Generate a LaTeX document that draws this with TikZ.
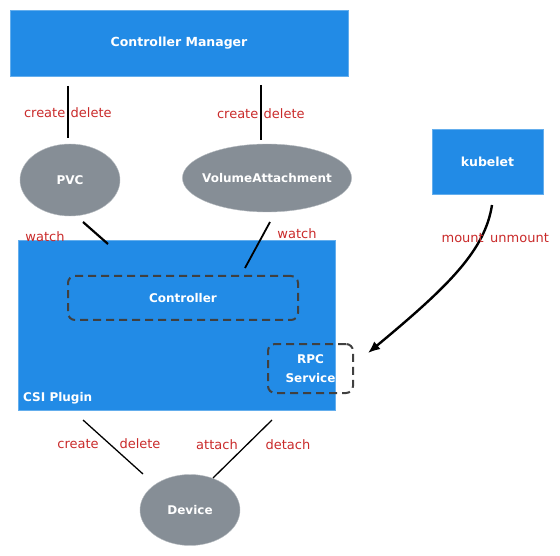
\documentclass[tikz,border=0pt]{standalone}
\usepackage{fontspec}
\setmainfont{DejaVu Sans}
\definecolor{boxblue}{HTML}{228BE6}
\definecolor{objgray}{HTML}{868E96}
\definecolor{opred}{HTML}{C92A2A}
\definecolor{dashgray}{HTML}{404040}
\usetikzlibrary{shapes.geometric, arrows.meta}
\tikzset{
  bluebox/.style={draw=boxblue!70!white, fill=boxblue, text=white, inner sep=0pt},
  objnode/.style={ellipse, draw=objgray!60!white, fill=objgray, text=white, font=\bfseries\fontsize{12}{14}\selectfont, inner sep=0pt},
  part/.style={draw=dashgray, dash pattern=on 8pt off 5pt, line width=2pt, rounded corners=7pt, text=white, inner sep=0pt},
  op/.style={text=opred, font=\fontsize{13}{15}\selectfont},
}
\begin{document}
\begin{tikzpicture}[x=1pt, y=-1pt]
  \useasboundingbox (0,0) rectangle (560,556);

  \node[bluebox, minimum width=338pt, minimum height=66pt, font=\bfseries\fontsize{12.5}{15}\selectfont] (cm) at (179,43) {Controller Manager};
  \node[bluebox, minimum width=111pt, minimum height=65pt, font=\bfseries\fontsize{12.5}{15}\selectfont] (kubelet) at (487.5,161.5) {kubelet};

  \node[objnode, minimum width=100pt, minimum height=72pt] (pvc) at (70,180) {PVC};
  \node[objnode, minimum width=166pt, minimum height=68pt, inner sep=-5pt] (va) at (267,178) {VolumeAttachment};

  \node[bluebox, minimum width=317pt, minimum height=170pt] (csi) at (176.5,325) {};
  \node[text=white, font=\bfseries\fontsize{12}{14}\selectfont, anchor=south west, inner sep=0pt] (csilabel) at (23,404) {CSI Plugin};
  \node[part, minimum width=230pt, minimum height=44pt, font=\bfseries\fontsize{12}{14}\selectfont] (ctrl) at (183,298) {Controller};
  \node[part, minimum width=85pt, minimum height=49pt, align=center, font=\bfseries\fontsize{12}{19}\selectfont] (rpc) at (310.5,368.5) {RPC\\Service};

  \node[objnode, minimum width=100pt, minimum height=71pt] (dev) at (190,510) {Device};

  % create / delete
  \coordinate (cmpvc) at (68,86);
  \coordinate (pvctop) at (68,138);
  \draw[line width=1.4pt] (cmpvc) -- node[op, pos=0.52, left, inner sep=2pt] {create} node[op, pos=0.52, right, inner sep=2pt] {delete} (pvctop);
  \coordinate (cmva) at (261,85);
  \coordinate (vatop) at (261,140);
  \draw[line width=1.4pt] (cmva) -- node[op, pos=0.52, left, inner sep=2pt] {create} node[op, pos=0.52, right, inner sep=2pt] {delete} (vatop);

  % watch
  \coordinate (pvcw) at (83,222);
  \coordinate (csipvc) at (108,244);
  \draw[line width=2.2pt] (pvcw) -- (csipvc);
  \node[op] (watchpvc) at (45,237) {watch};
  \coordinate (vaw) at (270,222);
  \coordinate (csiva) at (245,268);
  \draw[line width=1.8pt] (vaw) -- (csiva);
  \node[op] (watchva) at (297,234) {watch};

  % kubelet -> RPC
  \coordinate (kub) at (492,205);
  \coordinate (rpcin) at (368,353);
  \draw[-{Latex[length=12pt,width=10pt]}, line width=2.4pt] (kub) .. controls (485,250) and (450,285) .. (rpcin);
  \node[op, anchor=east, inner sep=1pt] (mount) at (485,238) {mount};
  \node[op, anchor=west, inner sep=1pt] (unmount) at (489,238) {unmount};

  % device
  \coordinate (csidel) at (83,420);
  \coordinate (devdel) at (143,474);
  \draw[line width=1.3pt] (csidel) -- (devdel);
  \node[op] (create) at (78,444) {create};
  \node[op] (delete) at (140,444) {delete};
  \coordinate (csiatt) at (272,420);
  \coordinate (devatt) at (213,478);
  \draw[line width=1.3pt] (csiatt) -- (devatt);
  \node[op] (attach) at (217,445) {attach};
  \node[op] (detach) at (288,445) {detach};
\end{tikzpicture}
\end{document}
